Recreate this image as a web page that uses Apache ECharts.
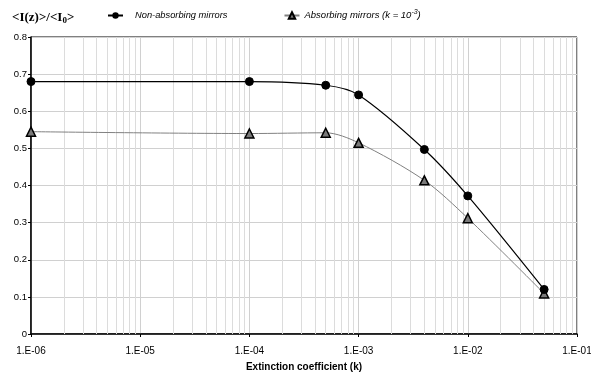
<!DOCTYPE html>
<html><head><meta charset="utf-8">
<script src="https://cdn.jsdelivr.net/npm/echarts@6/dist/echarts.min.js"></script>
<style>html,body{margin:0;padding:0;background:#fff}#c{width:591px;height:380px}</style>
</head><body><div id="c"></div>
<script>
var kValues = [1e-6, 1e-4, 5e-4, 1e-3, 4e-3, 1e-2, 5e-2];
var nonAbsorbing = [0.68, 0.68, 0.67, 0.644, 0.497, 0.372, 0.12];
var absorbing = [0.545, 0.54, 0.542, 0.515, 0.414, 0.312, 0.109];
var yTicks = [0, 0.1, 0.2, 0.3, 0.4, 0.5, 0.6, 0.7, 0.8];
var minorX = [];
for (var e = -6; e < -1; e++) { for (var m = 2; m <= 9; m++) { minorX.push(m * Math.pow(10, e)); } }

var FONT = 'Liberation Sans, Arial, sans-serif';
var chart = echarts.init(document.getElementById('c'));
function pairs(xs, ys) { return xs.map(function (x, i) { return [x, ys[i]]; }); }
chart.setOption({
  animation: false,
  title: {
    text: '<I(z)>/<I{sub|0}>', left: 7, top: 5,
    textStyle: { fontFamily: 'Liberation Serif, Times New Roman, serif', fontSize: 13, fontWeight: 'bold', color: '#000',
      rich: { sub: { fontFamily: 'Liberation Serif, serif', fontSize: 9, fontWeight: 'bold', verticalAlign: 'bottom', padding: [6, 0, 0, 0] } } }
  },
  legend: {
    top: 4, left: 102, itemGap: 56, itemWidth: 15, itemHeight: 8,
    textStyle: { fontFamily: FONT, fontSize: 9.5, fontStyle: 'italic', color: '#000',
      rich: { sup: { fontSize: 7, fontStyle: 'italic', fontFamily: FONT, verticalAlign: 'top', padding: [0, 0, 6, 0] },
              t: { fontSize: 9.5, fontStyle: 'italic', fontFamily: FONT },
              t0: { fontSize: 9.3, fontStyle: 'italic', fontFamily: FONT, padding: [0, 0, 0, 7] },
              t1: { fontSize: 9.5, fontStyle: 'italic', fontFamily: FONT, padding: [0, 0, 0, 0] } } },
    formatter: function (n) { return n === 'Absorbing' ? '{t1|Absorbing mirrors (k = 10}{sup|-3}{t|)}' : '{t0|Non-absorbing mirrors}'; },
    data: ['Non-absorbing', 'Absorbing']
  },
  grid: { left: 31, right: 14, top: 37, bottom: 46, containLabel: false, outerBoundsMode: 'none', show: true, borderColor: '#000', borderWidth: 1 },
  xAxis: {
    type: 'log', logBase: 10, min: 1e-6, max: 1e-1,
    name: 'Extinction coefficient (k)', nameLocation: 'middle', nameGap: 28,
    nameTextStyle: { fontFamily: FONT, fontSize: 10, fontWeight: 'bold', color: '#000' },
    axisLine: { show: true, lineStyle: { color: '#000', width: 1.5 } },
    axisTick: { show: true, length: 3, inside: false, lineStyle: { color: '#000' } },
    axisLabel: { fontFamily: FONT, fontSize: 10, color: '#000', margin: 12,
      formatter: function (v) { var p = Math.round(Math.log10(v)); return '1.E-' + (p > -10 ? '0' : '') + (-p); } },
    splitLine: { show: true, lineStyle: { color: '#d0d0d0', width: 1 } }
  },
  yAxis: {
    type: 'value', min: 0, max: 0.8, interval: 0.1,
    axisLine: { show: true, lineStyle: { color: '#000', width: 1.5 } },
    axisTick: { show: true, length: 3, lineStyle: { color: '#000' } },
    axisLabel: { fontFamily: FONT, fontSize: 9.5, color: '#000', margin: 4,
      formatter: function (v) { return v === 0 ? '0' : v.toFixed(1); } },
    splitLine: { show: true, lineStyle: { color: '#d0d0d0', width: 1 } }
  },
  series: [
    { name: 'grid', type: 'line', data: [], silent: true, z: 1,
      markLine: { silent: true, z: 1, symbol: 'none', label: { show: false },
        lineStyle: { color: '#dcdcdc', width: 1, type: 'solid' },
        data: minorX.map(function (x) { return [{ coord: [x, 0] }, { coord: [x, 0.8] }]; }) } },
    { name: 'Absorbing', type: 'line', smooth: 0.3, data: pairs(kValues, absorbing), z: 3,
      symbol: 'triangle', symbolSize: 9,
      lineStyle: { color: '#808080', width: 1 },
      itemStyle: { color: '#7a7a7a', borderColor: '#000', borderWidth: 1.5 } },
    { name: 'Non-absorbing', type: 'line', smooth: 0.3, data: pairs(kValues, nonAbsorbing), z: 4,
      symbol: 'circle', symbolSize: 8,
      lineStyle: { color: '#000', width: 1.2 },
      itemStyle: { color: '#000', borderColor: '#000' } }
  ]
});
</script></body></html>
